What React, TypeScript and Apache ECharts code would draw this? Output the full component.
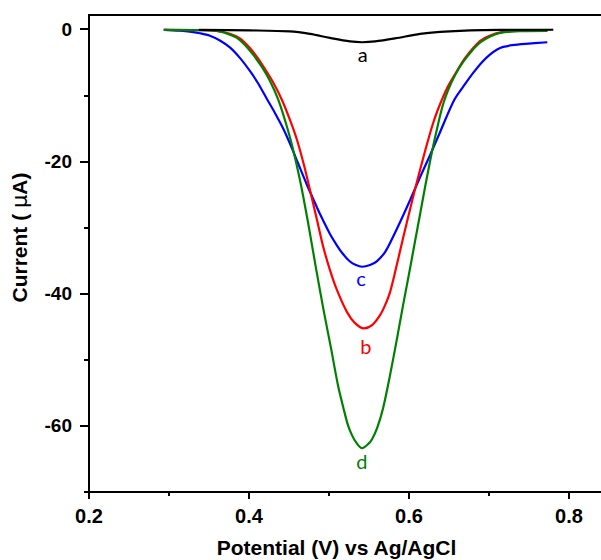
import React, { useEffect, useRef } from "react";
import * as echarts from "echarts";

// Tick positions
const xMajor = [0.2, 0.4, 0.6, 0.8];
const xMinor = [0.3, 0.5, 0.7];
const yMajor = [-60, -40, -20, 0];
const yMinor = [-70, -50, -30, -10];

// Curve a (black)
const aPotential = [0.3373, 0.4011, 0.4512, 0.4762, 0.5012, 0.5263, 0.5413, 0.5576, 0.5826, 0.6139, 0.6389, 0.6765, 0.714, 0.7804];
const aCurrent = [-0.1, -0.18, -0.33, -0.71, -1.32, -1.85, -1.97, -1.85, -1.39, -0.71, -0.41, -0.18, -0.1, -0.08];

// Curve c (blue)
const cPotential = [0.2935, 0.3135, 0.326, 0.3386, 0.3511, 0.3636, 0.3761, 0.3886, 0.4011, 0.4111, 0.4224, 0.4324, 0.4424, 0.4512, 0.4612, 0.4725, 0.4825, 0.4887, 0.5012, 0.51, 0.5175, 0.5262, 0.5337, 0.5413, 0.5513, 0.5601, 0.5701, 0.5763, 0.5889, 0.6014, 0.6139, 0.6264, 0.6389, 0.6565, 0.6702, 0.6802, 0.6915, 0.7015, 0.7102, 0.7178, 0.729, 0.7453, 0.7729];
const cCurrent = [-0.11, -0.23, -0.36, -0.61, -0.98, -1.7, -2.75, -4.34, -6.31, -8.13, -10.55, -12.67, -14.94, -17.28, -20.24, -23.57, -26.29, -27.95, -30.98, -32.72, -34.01, -35.14, -35.67, -35.93, -35.67, -35.07, -33.71, -32.34, -29.17, -25.84, -22.36, -19.03, -15.54, -10.7, -8.28, -6.61, -4.95, -3.81, -3.06, -2.68, -2.42, -2.22, -1.97];

// Curve b (red)
const bPotential = [0.2935, 0.3386, 0.3598, 0.3761, 0.3886, 0.4011, 0.4099, 0.4199, 0.4299, 0.4412, 0.4512, 0.46, 0.4687, 0.4762, 0.485, 0.4925, 0.5012, 0.51, 0.5225, 0.5325, 0.5438, 0.5538, 0.5638, 0.5701, 0.5763, 0.5838, 0.5926, 0.6014, 0.6076, 0.6201, 0.6302, 0.6389, 0.6477, 0.6577, 0.6702, 0.689, 0.7015, 0.714, 0.7353, 0.7729];
const bCurrent = [-0.11, -0.15, -0.26, -0.71, -1.39, -2.83, -4.19, -6.01, -7.98, -10.7, -13.73, -16.75, -20.54, -24.32, -28.86, -32.79, -36.43, -39.46, -42.79, -44.45, -45.25, -44.76, -43.24, -41.73, -39.76, -36.13, -31.59, -27.2, -24.17, -18.42, -14.18, -11.31, -8.88, -6.77, -4.34, -1.77, -0.94, -0.48, -0.26, -0.26];

// Curve d (green)
const dPotential = [0.2935, 0.3386, 0.3598, 0.3736, 0.3849, 0.3949, 0.4049, 0.4161, 0.4262, 0.4362, 0.4449, 0.4537, 0.4637, 0.4737, 0.4837, 0.4937, 0.5025, 0.5112, 0.5187, 0.5237, 0.5287, 0.5337, 0.5413, 0.5488, 0.5538, 0.5601, 0.5676, 0.5763, 0.5851, 0.5926, 0.6014, 0.6076, 0.6139, 0.6201, 0.6289, 0.6364, 0.6427, 0.6489, 0.6577, 0.6677, 0.679, 0.689, 0.7015, 0.714, 0.7391, 0.7729];
const dCurrent = [-0.11, -0.15, -0.26, -0.71, -1.32, -2.38, -3.81, -5.71, -7.83, -10.55, -13.73, -17.51, -22.81, -29.17, -36.13, -42.79, -48.24, -53.84, -57.62, -59.89, -61.4, -62.46, -63.37, -62.76, -62.01, -60.34, -57.32, -52.32, -46.72, -41.73, -36.13, -32.04, -27.95, -23.87, -18.42, -14.32, -11.31, -9.19, -6.92, -4.95, -3.21, -2.0, -1.09, -0.56, -0.3, -0.26];

// Curve annotations [potential, current]
const labelA = [0.542, -3.74];
const labelC = [0.54, -37.6];
const labelB = [0.546, -47.9];
const labelD = [0.541, -65.3];

const zip = (xs: number[], ys: number[]) => xs.map((x, i) => [x, ys[i]]);

const FONT = "'Liberation Sans', Arial, sans-serif";

function makeSeries(name: string, xs: number[], ys: number[], color: string, label: number[], text: string) {
  return {
    type: "line",
    name,
    data: zip(xs, ys),
    smooth: 0.3,
    showSymbol: false,
    symbol: "none",
    lineStyle: { color, width: 2.2 },
    markPoint: {
      symbol: "rect",
      symbolSize: 1,
      itemStyle: { color: "transparent" },
      label: {
        show: true,
        position: "inside",
        formatter: text,
        color,
        fontSize: 20,
        fontFamily: "Lato, 'Open Sans', sans-serif",
      },
      data: [{ coord: label }],
    },
  };
}

export default function App() {
  const ref = useRef<HTMLDivElement>(null);
  useEffect(() => {
    const chart = echarts.init(ref.current!, null, { renderer: "svg" });
    const commonX = { type: "value", min: 0.2, max: 0.85, gridIndex: 0 };
    const commonY = { type: "value", min: -70, max: 2.15, gridIndex: 0 };
    chart.setOption({
      animation: false,
      backgroundColor: "#fff",
      grid: {
        left: 89,
        top: 15,
        width: 520,
        height: 477,
        show: true,
        borderColor: "#000",
        borderWidth: 2,
        containLabel: false,
        outerBoundsMode: "none",
      },
      xAxis: [
        {
          ...commonX,
          position: "bottom",
          axisLine: { show: true, onZero: false, lineStyle: { color: "#000", width: 2 } },
          axisTick: { show: true, inside: false, length: 7, customValues: xMajor, lineStyle: { color: "#000", width: 2 } },
          axisLabel: {
            show: true,
            customValues: xMajor,
            formatter: (v: number) => v.toFixed(1),
            fontSize: 20,
            fontWeight: "bold",
            color: "#000",
            fontFamily: FONT,
            margin: 14,
          },
          splitLine: { show: false },
          name: "Potential (V) vs Ag/AgCl",
          nameLocation: "middle",
          nameGap: 45,
          nameTextStyle: {
            fontSize: 21,
            fontWeight: "bold",
            color: "#000",
            fontFamily: FONT,
            lineHeight: 21,
            padding: [0, 25, 0, 0],
          },
        },
        {
          ...commonX,
          position: "bottom",
          axisLine: { show: false, onZero: false },
          axisTick: { show: true, inside: false, length: 4, customValues: xMinor, lineStyle: { color: "#000", width: 2 } },
          axisLabel: { show: false },
          splitLine: { show: false },
        },
      ],
      yAxis: [
        {
          ...commonY,
          position: "left",
          axisLine: { show: true, onZero: false, lineStyle: { color: "#000", width: 2 } },
          axisTick: { show: true, inside: false, length: 9, customValues: yMajor, lineStyle: { color: "#000", width: 2 } },
          axisLabel: {
            show: true,
            customValues: yMajor,
            fontSize: 19,
            fontWeight: "bold",
            color: "#000",
            fontFamily: FONT,
            margin: 17,
          },
          splitLine: { show: false },
          name: "{b|Current ( }{m|μ}{b|A)}",
          nameLocation: "middle",
          nameGap: 59,
          nameTextStyle: {
            padding: [0, 0, 0, 32],
            rich: {
              b: { fontSize: 21, fontWeight: "bold", color: "#000", fontFamily: FONT },
              m: { fontSize: 21, fontWeight: "normal", color: "#000", fontFamily: "'DejaVu Sans', sans-serif" },
            },
          },
        },
        {
          ...commonY,
          position: "left",
          axisLine: { show: false, onZero: false },
          axisTick: { show: true, inside: false, length: 5, customValues: yMinor, lineStyle: { color: "#000", width: 2 } },
          axisLabel: { show: false },
          splitLine: { show: false },
        },
      ],
      series: [
        makeSeries("c", cPotential, cCurrent, "#0000ff", labelC, "c"),
        makeSeries("b", bPotential, bCurrent, "#ff0000", labelB, "b"),
        makeSeries("d", dPotential, dCurrent, "#008000", labelD, "d"),
        makeSeries("a", aPotential, aCurrent, "#000000", labelA, "a"),
      ],
    });
    return () => chart.dispose();
  }, []);
  return (
    <div
      ref={ref}
      style={{ position: "fixed", left: 0, top: 0, width: 601, height: 560, background: "#fff" }}
    />
  );
}
